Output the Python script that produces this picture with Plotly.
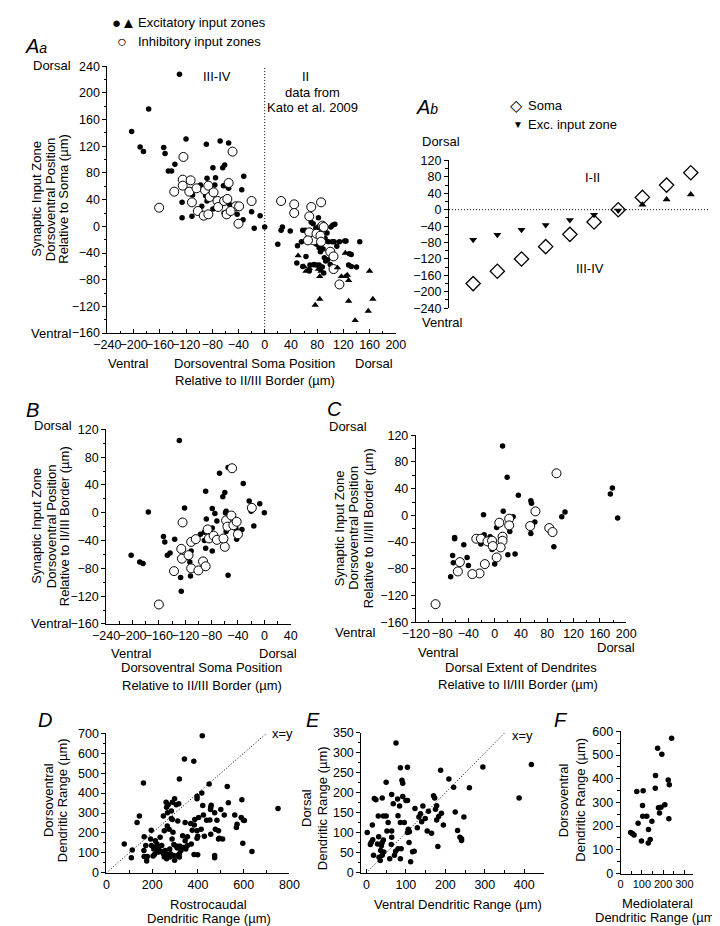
import plotly.graph_objects as go

W, H = 720, 926
FONT = "Liberation Sans, Arial, Helvetica, sans-serif"

# ---------------- DATA ----------------
# Panel Aa : input zone vs soma position (relative to II/III border)
aa_exc_x = [-130, -203, -177, -190, -185, -154, -152, -137, -147, -142, -120, -89, -68, -55, -79, -64, -61, -32,
            -35, -75, -88, -98, -87, -76, -63, -59, -55, -90, -85, -88, -96, -79, -126, -126, -111, -110, -54, -52,
            -62, -42, -40, -33, -20, -7, -16, 0,
            20, 25, 27, 39, 50, 49, 58, 62, 56, 65, 71, 74, 78, 82, 82, 83, 80, 79, 83, 85, 85, 89, 91, 93, 96,
            97, 101, 104, 107, 103, 106, 110, 114, 122, 124, 129, 132, 128, 132, 140, 145, 63, 69, 75, 79, 83,
            85, 88, 90, 100, 68, 58, 103, 88, 92, 95]
aa_exc_y = [228, 142, 176, 119, 112, 118, 109, 93, 83, 83, 131, 123, 128, 125, 88, 88, 92, 75,
            55, 73, 72, 62, 63, 62, 61, 61, 57, 46, 46, 38, 30, 26, 36, 13, 15, 47, 33, 26,
            20, 18, 7, 10, 22, 16, -3, -1,
            -27, -6, -1, -7, -29, -55, -6, -6, -23, -18, 6, 4, -3, -1, 13, -8, -18, -27, -32, -29, -38, -34, -47,
            -52, -50, -23, -1, 2, 3, -23, -23, -30, -23, -22, -22, -41, -42, -58, -60, -61, -23, -45, -58, -57,
            -58, -58, -63, -61, -70, -57, -67, -60, -47, -25, -18, -10]
aa_tri_x = [51, 60, 63, 68, 72, 82, 84, 86, 111, 117, 123, 123, 126, 128, 160, 165, 158, 138, 128, 77, 84]
aa_tri_y = [-44, -60, -67, -63, -59, -64, -75, -67, -62, -75, -40, -75, -73, -81, -67, -109, -127, -141, -112,
            -118, -109]
aa_inh_x = [-161, -138, -124, -125, -125, -113, -115, -111, -104, -102, -93, -86, -91, -86, -84, -78, -72, -71,
            -62, -57, -58, -55, -49, -44, -39, -40, -20, -52,
            25, 45, 45, 71, 68, 86, 68, 75, 79, 66, 88, 90, 85, 86, 100, 105, 105, 114]
aa_inh_y = [28, 52, 104, 70, 61, 69, 52, 36, 57, 23, 16, 18, 54, 61, 44, 51, 38, 29,
            38, 41, 18, 65, 112, 30, 30, 4, 38, 23,
            38, 33, 20, 29, 15, 36, -9, -21, -11, -21, 1, -1, -14, -23, -38, -45, -64, -87]

# Panel Ab : model, soma position vs excitatory input zone
ab_soma = [-180, -150, -120, -90, -60, -30, 0, 30, 60, 90]
ab_exc_zone = [-73, -61, -49, -37, -25, -12, -2, 12, 25, 37]

# Panel B : input zone (rel. II/III border) vs soma position
b_exc_x = [-129, -176, -121, -89, -68, -55, -60, -63, -32, -23, -7, 0, -20, -16, -79, -75, -72, -88, -89, -91,
           -59, -58, -59, -58, -60, -79, -91, -89, -79, -97, -111, -113, -112, -127, -126, -55, -43, -34, -42,
           -40, -136, -153, -151, -147, -143, -202, -189, -184]
b_exc_y = [104, 1, 7, 31, 57, 65, 29, 23, 42, 17, 13, 0, 2, -19, 6, -1, -12, -9, -25, -28,
           0, 2, -14, -27, -40, -22, -40, -51, -55, -31, -55, -71, -91, -93, -113, -90, -23, -24, -38,
           -32, -38, -34, -42, -61, -58, -61, -71, -73]
b_inh_x = [-124, -126, -125, -115, -111, -104, -111, -100, -93, -89, -137, -86, -84, -77, -72, -58, -56, -50,
           -47, -42, -40, -60, -62, -49, -19, -160]
b_inh_y = [-14, -52, -66, -61, -42, -38, -80, -83, -70, -77, -84, -24, -37, -33, -39, -11, -20, -4,
           -18, -13, -31, -49, -37, 64, 7, -132]

# Panel C : input zone vs dorsal extent of dendrites
c_exc_x = [12, 19, 36, 55, 56, 61, 55, 90, 102, 107, 176, 179, 187, 13, 28, -17, -16, -7, -21, -4, 3, 23, 20,
           31, 0, -61, -61, -64, -63, -47, -42, -40, -67]
c_exc_y = [104, 57, 30, 22, 18, -10, -27, -47, -2, 5, 32, 41, -4, 6, -2, 1, -29, -32, -43, -51, -18, -24, -59,
           -58, -73, -33, -35, -60, -71, -44, -63, -75, -92]
c_inh_x = [94, 62, 54, 83, 88, 7, 22, 22, 12, 12, 9, 3, -15, -23, -34, -28, -21, -11, -4, -3, -53, -56, -90]
c_inh_y = [63, 6, -16, -19, -25, -11, -5, -15, -32, -38, -48, -63, -73, -87, -88, -35, -35, -39, -38, -46, -70,
           -84, -133]

# Panel D : dorsoventral vs rostrocaudal dendritic range
d_x = [78, 109, 113, 134, 144, 162, 165, 165, 176, 196, 193, 197, 207, 214, 210, 204, 221, 217, 235, 242, 249,
       257, 263, 270, 277, 287, 295, 305, 312, 319, 315, 326, 333, 344, 354, 368, 375, 384, 396, 396, 403, 424,
       428, 438, 452, 456, 476, 483, 490, 494, 508, 515, 455, 456, 458, 500, 528, 533, 561, 568, 592, 589, 599,
       596, 636, 473, 473, 490, 449, 417, 396, 396, 421, 399, 383, 399, 341, 382, 419, 319, 298, 284, 288, 261,
       263, 270, 267, 316, 305, 284, 312, 266, 274, 288, 164, 179, 172, 221, 229, 242, 253, 277, 280, 295, 310,
       322, 337, 347, 354, 371, 344, 291, 253, 228, 249, 263, 298, 319, 386, 414, 473, 571, 603, 750]
d_y = [145, 76, 115, 252, 285, 450, 181, 82, 59, 214, 170, 137, 120, 161, 92, 84, 145, 128, 178, 137, 285,
       112, 87, 92, 120, 170, 142, 133, 87, 96, 133, 112, 186, 252, 181, 247, 214, 240, 211, 173, 277, 290,
       183, 264, 265, 194, 219, 264, 211, 173, 170, 290, 318, 329, 339, 318, 433, 351, 290, 227, 367, 277, 264,
       148, 107, 87, 76, 170, 446, 400, 384, 371, 338, 183, 92, 91, 571, 560, 688, 471, 371, 310, 354, 354,
       329, 342, 301, 346, 342, 273, 260, 235, 219, 268, 112, 82, 137, 104, 104, 107, 79, 79, 96, 87, 124,
       133, 127, 120, 137, 145, 161, 203, 211, 120, 96, 71, 63, 79, 268, 219, 301, 244, 262, 323]

# Panel E : dorsal vs ventral dendritic range
e_x = [2, 10, 12, 16, 18, 15, 20, 24, 28, 31, 30, 32, 35, 36, 38, 40, 40, 40, 43, 44, 43, 50, 50, 52, 55, 59,
       63, 64, 64, 64, 68, 71, 74, 75, 79, 80, 80, 84, 86, 88, 86, 86, 90, 92, 92, 96, 100, 104, 104, 104, 106,
       109, 108, 112, 117, 121, 123, 129, 133, 137, 140, 143, 149, 154, 157, 165, 170, 173, 175, 178, 178,
       181, 183, 188, 190, 195, 209, 221, 225, 231, 237, 241, 241, 247, 261, 295, 387, 418]
e_y = [101, 71, 76, 83, 44, 120, 186, 183, 72, 90, 142, 39, 31, 56, 68, 44, 187, 76, 82, 52, 142, 227, 142,
       105, 126, 35, 71, 89, 105, 196, 173, 44, 54, 325, 185, 60, 143, 167, 126, 60, 263, 35, 232, 224, 191,
       126, 181, 181, 264, 101, 109, 103, 76, 28, 53, 54, 161, 113, 140, 148, 128, 167, 136, 105, 154, 99,
       193, 187, 159, 168, 132, 66, 141, 257, 149, 120, 235, 214, 152, 106, 89, 85, 81, 140, 213, 265, 187,
       271]

# Panel F : dorsoventral vs mediolateral dendritic range
f_x = [47, 55, 63, 76, 82, 98, 106, 103, 104, 123, 130, 131, 139, 147, 163, 164, 174, 178, 183, 190, 194,
       208, 224, 229, 227, 240]
f_y = [173, 169, 162, 346, 212, 137, 349, 287, 242, 242, 129, 186, 143, 220, 360, 413, 529, 277, 255, 280,
       503, 290, 395, 374, 231, 571]

# ---------------- FIGURE ----------------
fig = go.Figure()


def dom_x(a, b):
    return [a / W, b / W]


def dom_y(top, bottom):
    return [1 - bottom / H, 1 - top / H]


def axis(dom, rng, dtick, minor, ticks="outside", fsize=12.5, **kw):
    d = dict(domain=dom, range=rng, showline=True, linecolor="black", linewidth=1, showgrid=False,
             zeroline=False, ticks=ticks, ticklen=4, tickwidth=1, tickcolor="black", tickmode="linear",
             dtick=dtick, tick0=0, tickangle=0, tickfont=dict(family=FONT, size=fsize, color="black"),
             fixedrange=True,
             minor=dict(ticks=ticks, ticklen=2.5, tickwidth=1, tickcolor="black", dtick=minor, tick0=0,
                        showgrid=False))
    d.update(kw)
    return d


def dots(x, y, ax, size=5.5):
    fig.add_trace(go.Scatter(x=x, y=y, mode="markers", xaxis="x" + ax, yaxis="y" + ax, showlegend=False,
                             marker=dict(symbol="circle", size=size, color="black", line=dict(width=0)),
                             hoverinfo="skip"))


def rings(x, y, ax, size=9):
    fig.add_trace(go.Scatter(x=x, y=y, mode="markers", xaxis="x" + ax, yaxis="y" + ax, showlegend=False,
                             marker=dict(symbol="circle", size=size, color="white",
                                         line=dict(width=1, color="black")), hoverinfo="skip"))


# Aa
dots(aa_exc_x, aa_exc_y, "")
rings(aa_inh_x, aa_inh_y, "")
fig.add_trace(go.Scatter(x=aa_tri_x, y=aa_tri_y, mode="markers", showlegend=False, hoverinfo="skip",
                         marker=dict(symbol="triangle-up", size=6.5, color="black", line=dict(width=0))))
# Ab
fig.add_trace(go.Scatter(x=ab_soma, y=ab_soma, mode="markers", xaxis="x2", yaxis="y2", showlegend=False,
                         hoverinfo="skip",
                         marker=dict(symbol="diamond", size=11, color="white", line=dict(width=1.3, color="black"))))
fig.add_trace(go.Scatter(x=ab_soma, y=ab_exc_zone, mode="markers", xaxis="x2", yaxis="y2", showlegend=False,
                         hoverinfo="skip",
                         marker=dict(symbol=["triangle-down" if v < 0 else "triangle-up" for v in ab_exc_zone],
                                     size=7, color="black", line=dict(width=0))))
# B, C
dots(b_exc_x, b_exc_y, "3")
rings(b_inh_x, b_inh_y, "3")
dots(c_exc_x, c_exc_y, "4")
rings(c_inh_x, c_inh_y, "4")
# D, E, F
dots(d_x, d_y, "5")
dots(e_x, e_y, "6")
dots(f_x, f_y, "7")

fig.update_layout(
    width=W, height=H, margin=dict(l=0, r=0, t=0, b=0), paper_bgcolor="white", plot_bgcolor="white",
    font=dict(family=FONT, size=13, color="black"),
    xaxis=axis(dom_x(88.3, 386.7), [-240, 200], 40, 20, ticks="inside", anchor="y"),
    yaxis=axis(dom_y(52, 323), [-160, 240], 40, 20, anchor="x"),
    xaxis2=axis(dom_x(441.7, 711), [-210, 113], 30, 30, visible=False, anchor="y2"),
    yaxis2=axis(dom_y(147.7, 297.7), [-240, 120], 40, 20, anchor="x2"),
    xaxis3=axis(dom_x(87, 278), [-240, 40], 40, 20, ticks="inside", anchor="y3"),
    yaxis3=axis(dom_y(420.7, 618.3), [-160, 120], 40, 20, anchor="x3"),
    xaxis4=axis(dom_x(407.4, 625), [-120, 200], 40, 20, ticks="inside", anchor="y4"),
    yaxis4=axis(dom_y(426.7, 616.5), [-160, 120], 40, 20, anchor="x4"),
    xaxis5=axis(dom_x(87.3, 276.7), [0, 800], 200, 100, ticks="inside", anchor="y5"),
    yaxis5=axis(dom_y(729.3, 871), [0, 700], 100, 50, anchor="x5"),
    xaxis6=axis(dom_x(351, 540), [-13, 450], 100, 50, ticks="inside", anchor="y6"),
    yaxis6=axis(dom_y(729, 871), [0, 350], 50, 25, anchor="x6"),
    xaxis7=axis(dom_x(619.3, 694), [0, 340], 100, 50, ticks="inside", fsize=11, anchor="y7"),
    yaxis7=axis(dom_y(727.3, 871.7), [0, 600], 100, 50, anchor="x7"),
)

# reference lines
dot_line = dict(color="black", width=1, dash="1px,2px")
fig.add_shape(type="line", xref="x", yref="y domain", x0=0, x1=0, y0=0, y1=1, line=dot_line)
fig.add_shape(type="line", xref="x2 domain", yref="y2", x0=0, x1=1, y0=0, y1=0, line=dot_line)
fig.add_shape(type="line", xref="x5", yref="y5", x0=0, y0=0, x1=700, y1=700, line=dot_line)
fig.add_shape(type="line", xref="x6", yref="y6", x0=0, y0=0, x1=350, y1=350, line=dot_line)


def txt(x, y, s, size=13, xa="center", ya="middle", angle=0):
    fig.add_annotation(x=x / W, y=1 - y / H, xref="paper", yref="paper", text=s, showarrow=False,
                       xanchor=xa, yanchor=ya, textangle=angle, font=dict(family=FONT, size=size, color="black"))


def panel_label(x, y, main, sub=""):
    s = "<i>" + main + "</i>"
    if sub:
        s += "<i><span style='font-size:14px'>" + sub + "</span></i>"
    txt(x, y, s, size=20, xa="left")


# ---- Aa texts
txt(105, 8, "●▲", size=15)
txt(118, 8, "Excitatory input zones", xa="left")
txt(103, 27, "○", size=16)
txt(118, 27, "Inhibitory input zones", xa="left")
panel_label(1, 31, "A", "a")
txt(9, 51, "Dorsal", xa="left")
txt(7, 323, "Ventral", xa="left")
txt(15, 187, "Synaptic Input Zone", angle=-90)
txt(29, 187, "Dorsoventral Position", angle=-90)
txt(43, 187, "Relative to Soma (µm)", angle=-90)
txt(202, 62, "III-IV")
txt(293, 62, "II")
txt(300, 79, "data from")
txt(300, 94, "Kato et al. 2009")
txt(87, 354, "Ventral", xa="left")
txt(241, 354, "Dorsoventral Soma Position")
txt(241, 371.5, "Relative to II/III Border (µm)")
txt(364, 354, "Dorsal")

# ---- Ab texts
panel_label(406, 93, "A", "b")
txt(512, 92, "◇", size=16)
txt(521, 92, "Soma", xa="left")
txt(513, 111, "▼", size=10)
txt(521, 111, "Exc. input zone", xa="left")
txt(412, 128, "Dorsal", xa="left")
txt(412, 312, "Ventral", xa="left")
txt(590, 165, "I-II")
txt(588, 257, "III-IV")

# ---- B texts
panel_label(2, 401, "B")
txt(10, 417, "Dorsal", xa="left")
txt(7, 618, "Ventral", xa="left")
txt(15, 519, "Synaptic Input Zone", angle=-90)
txt(30, 519, "Dorsoventral Position", angle=-90)
txt(43.5, 519, "Relative to II/III Border (µm)", angle=-90)
txt(90, 648, "Ventral", xa="left")
txt(287, 648, "Dorsal", xa="right")
txt(186, 663, "Dorsoventral Soma Position")
txt(186, 681, "Relative to II/III Border (µm)")

# ---- C texts
panel_label(313, 400, "C")
txt(315, 418, "Dorsal", xa="left")
txt(322, 627, "Ventral", xa="left")
txt(328, 521, "Synaptic Input Zone", angle=-90)
txt(343, 521, "Dorsoventral Position", angle=-90)
txt(358, 521, "Relative to II/III Border (µm)", angle=-90)
txt(408, 647, "Ventral", xa="left")
txt(614, 642, "Dorsal")
txt(516, 663, "Dorsal Extent of Dendrites")
txt(513, 680, "Relative to II/III Border (µm)")

# ---- D texts
panel_label(14, 716, "D")
txt(28, 797, "Dorsoventral", angle=-90)
txt(42.7, 797, "Dendritic Range (µm)", angle=-90)
txt(193, 903, "Rostrocaudal")
txt(193, 917, "Dendritic Range (µm)")
txt(257, 730, "x=y", xa="left")

# ---- E texts
panel_label(292, 716, "E")
txt(295, 805, "Dorsal", angle=-90)
txt(310.7, 805, "Dendritic Range (µm)", angle=-90)
txt(451, 903, "Ventral Dendritic Range (µm)")
txt(505, 732, "x=y", xa="left")

# ---- F texts
panel_label(548, 716, "F")
txt(561, 797, "Dorsoventral", angle=-90)
txt(578, 797, "Dendritic Range (µm)", angle=-90)
txt(657, 902, "Mediolateral")
txt(657, 916, "Dendritic Range (µm)")

fig.write_html("out.html")
